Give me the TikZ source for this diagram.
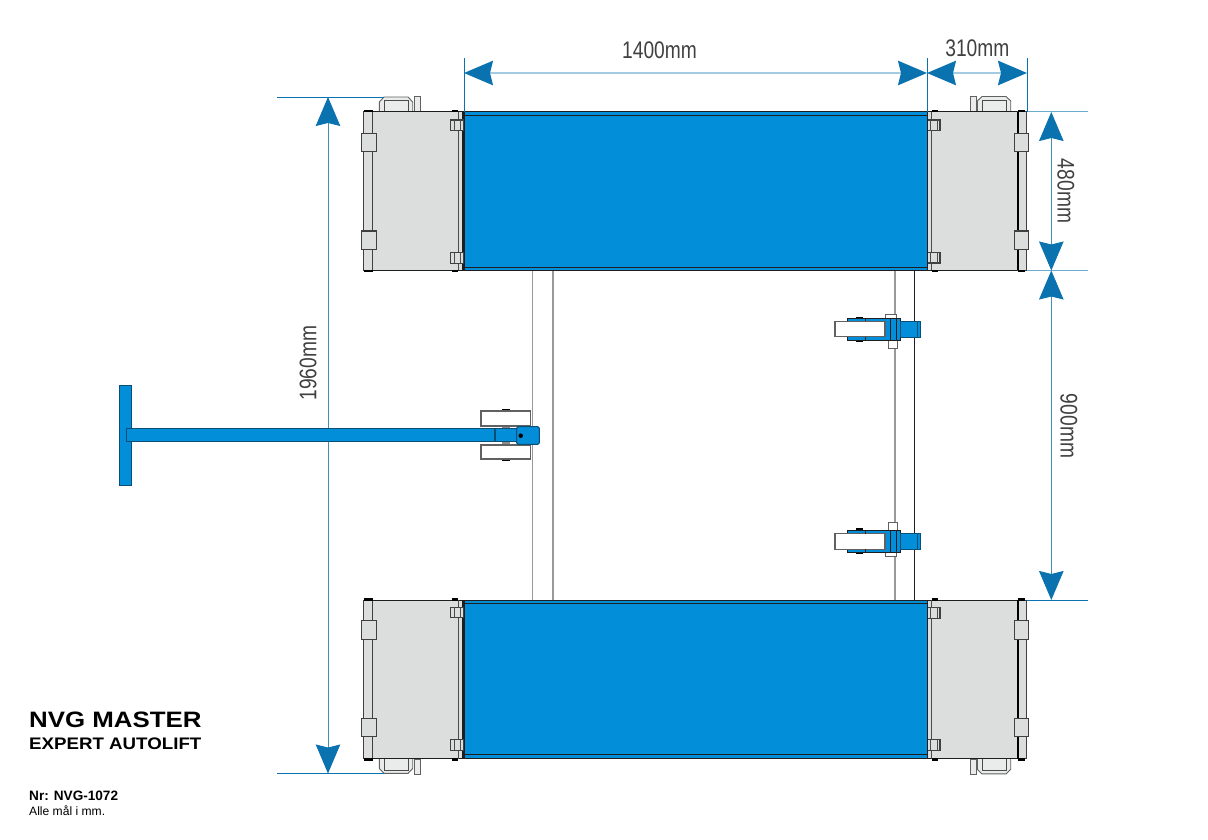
\documentclass[tikz,border=0pt]{standalone}
\usepackage{fontspec}
\usetikzlibrary{arrows.meta}
\setmainfont{Liberation Sans}
\newfontfamily\dimfont[FakeStretch=0.8]{Liberation Sans}
\newfontfamily\titlefont[FakeStretch=1.16]{Liberation Sans}
\newfontfamily\subfont[FakeStretch=1.12]{Liberation Sans}
\definecolor{liftblue}{HTML}{038ED9}
\definecolor{dimblue}{HTML}{0A72AE}
\definecolor{dimlight}{HTML}{A3CBE3}
\definecolor{dimmid}{HTML}{3F8FB8}
\definecolor{bodygrey}{HTML}{DCDEDD}
\definecolor{linedark}{HTML}{1E1E1E}
\definecolor{steeledge}{HTML}{0B4F77}
\tikzset{
	body/.style={fill=bodygrey,draw=linedark,line width=1.1pt},
	part/.style={fill=bodygrey,draw=linedark!85,line width=1.1pt},
	hingeline/.style={draw=linedark!80,line width=0.9pt},
	tab/.style={fill=bodygrey!60,draw=linedark!70,line width=0.9pt},
	deck/.style={fill=liftblue,draw=linedark,line width=1pt},
	steel/.style={fill=liftblue,draw=linedark,line width=1pt},
	wheel/.style={fill=white,draw=linedark!70,line width=1.1pt},
	stud/.style={line width=2.4pt,draw=black},
	tube/.style={draw=black!40,line width=1.1pt},
	witness/.style={draw=dimblue,line width=0.8pt},
	dimtip/.tip={Stealth[length=29pt,width=24.5pt,inset=3pt,color=dimblue]},
	dimline/.style={draw=dimlight,line width=1.6pt,dimtip-dimtip},
	dimvert/.style={draw=dimmid,line width=0.9pt,dimtip-dimtip},
	dimtext/.style={text=black!75,font=\dimfont\fontsize{24}{24}\selectfont,inner sep=0pt},
	infotext/.style={anchor=base west,inner sep=0pt,text=black}
}
% upper half of the lift, called again flipped for the lower one
\newcommand{\liftside}{
	% left end
	\draw[tab] (379.3,111.7) -- (379.3,102) -- (384,97) -- (408,97) -- (412.7,102) -- (412.7,111.7);
	\draw[hingeline] (384,111.7) -- (384,100) -- (408,100) -- (408,111.7);
	\draw[tab] (414,96) rectangle (420,111);
	\draw[body] (372.7,111.7) rectangle (463,270.3);
	\draw[hingeline] (458.7,111.7) -- (458.7,270.3);
	\draw[part] (363.7,111.7) rectangle (372.7,270.3);
	\draw[part] (361.3,133.7) rectangle (376.3,151.7);
	\draw[part] (361.3,231) rectangle (376.3,249.7);
	\draw[stud] (364,111) -- (372.5,111);
	\draw[stud] (364,271) -- (372.5,271);
	\draw[stud] (452,111) -- (458,111);
	\draw[stud] (452,271) -- (458,271);
	\draw[part] (450.7,120) rectangle (463.5,130.7);
	\draw[part] (450.7,252.7) rectangle (463.5,263.3);
	\draw[hingeline] (454,120) -- (454,130.7);
	\draw[hingeline] (460.7,120) -- (460.7,130.7);
	\draw[hingeline] (454,252.7) -- (454,263.3);
	\draw[hingeline] (460.7,252.7) -- (460.7,263.3);
	% right end
	\draw[tab] (977.3,111.7) -- (977.3,101) -- (982,96.5) -- (1006,96.5) -- (1010.7,101) -- (1010.7,111.7);
	\draw[hingeline] (982,111.7) -- (982,100) -- (1006,100) -- (1006,111.7);
	\draw[tab] (970,96) rectangle (976,111);
	\draw[body] (927,111.7) rectangle (1018,270.3);
	\draw[hingeline] (931.3,111.7) -- (931.3,270.3);
	\draw[part] (1018,111.7) rectangle (1026.7,270.3);
	\draw[line width=1.5pt,draw=black] (1018,111.7) -- (1018,270.3);
	\draw[part] (1014.3,133.7) rectangle (1028.3,151.7);
	\draw[part] (1014.3,231) rectangle (1028.3,249.7);
	\draw[stud] (1018,111) -- (1025,111);
	\draw[stud] (1018,271) -- (1025,271);
	\draw[stud] (932,111) -- (938,111);
	\draw[stud] (932,271) -- (938,271);
	\draw[part] (926.7,120) rectangle (940,130.7);
	\draw[part] (926.7,252.3) rectangle (940,263);
	\draw[hingeline] (930,120) -- (930,130.7);
	\draw[hingeline] (937,120) -- (937,130.7);
	\draw[hingeline] (930,252.3) -- (930,263);
	\draw[hingeline] (937,252.3) -- (937,263);
	% deck
	\draw[deck] (464,112) rectangle (927,270);
	\draw[linedark,line width=1pt] (464,116) -- (927,116);
	\draw[linedark,line width=1pt] (464,267) -- (927,267);
	% caster
	\draw[stud] (856,318) -- (863,318);
	\draw[stud] (856,341) -- (863,341);
	\draw[wheel] (885.7,314.3) rectangle (896.7,319);
	\draw[wheel] (888.3,340) rectangle (897.3,348.3);
	\draw[steel] (847.7,318.3) rectangle (900,340.3);
	\draw[steel,draw=steeledge] (900,321.3) rectangle (920.7,337.3);
	\draw[steeledge,line width=0.9pt] (917.7,321.3) -- (917.7,337.3);
	\draw[wheel] (835,321.3) rectangle (885,336.7);
	\draw[linedark,line width=0.8pt] (865,318.3) -- (865,321.3);
	\draw[linedark,line width=0.8pt] (865,336.7) -- (865,340.3);
	\draw[linedark,line width=0.8pt] (890,318.3) -- (890,340.3);
	\draw[linedark,line width=0.8pt] (896.7,318.3) -- (896.7,340.3);
}
\begin{document}
\begin{tikzpicture}[x=1pt,y=-1pt]
	\useasboundingbox (0,0) rectangle (1208,840);
	
	% cross tubes
	\coordinate (A1) at (532.7,271);
	\coordinate (A2) at (532.7,600);
	\coordinate (B1) at (553,271);
	\coordinate (B2) at (553,600);
	\coordinate (C1) at (895,271);
	\coordinate (C2) at (895,600);
	\coordinate (E1) at (914.7,271);
	\coordinate (E2) at (914.7,600);
	\draw[tube] (A1) -- (A2);
	\draw[tube] (B1) -- (B2);
	\draw[tube] (C1) -- (C2);
	\draw[linedark,line width=0.8pt] (E1) -- (E2);
	
	\liftside
	\begin{scope}[shift={(0,870.4)},yscale=-1]
		\liftside
	\end{scope}
	
	% witness lines
	\coordinate (W1a) at (277,97);
	\coordinate (W1b) at (384,97);
	\coordinate (W2a) at (277,773.5);
	\coordinate (W2b) at (384,773.5);
	\coordinate (W3a) at (464,58);
	\coordinate (W3b) at (464,112);
	\coordinate (W4a) at (927,58);
	\coordinate (W4b) at (927,112);
	\coordinate (W5a) at (1027,58);
	\coordinate (W5b) at (1027,112);
	\coordinate (W6a) at (1027,111.5);
	\coordinate (W6b) at (1088,111.5);
	\coordinate (W7a) at (1027,270.5);
	\coordinate (W7b) at (1088,270.5);
	\coordinate (W8a) at (1027,600);
	\coordinate (W8b) at (1088,600);
	\draw[witness] (W1a) -- (W1b);
	\draw[witness] (W2a) -- (W2b);
	\draw[witness] (W3a) -- (W3b);
	\draw[witness] (W4a) -- (W4b);
	\draw[witness] (W5a) -- (W5b);
	\draw[witness,opacity=0.6] (W6a) -- (W6b);
	\draw[witness,opacity=0.6] (W7a) -- (W7b);
	\draw[witness] (W8a) -- (W8b);
	
	% dimensions
	\coordinate (D1a) at (464,73);
	\coordinate (D1b) at (927,73);
	\coordinate (D2a) at (927,73);
	\coordinate (D2b) at (1027,73);
	\coordinate (D3a) at (328,97);
	\coordinate (D3b) at (328,773.5);
	\coordinate (D4a) at (1051.3,112);
	\coordinate (D4b) at (1051.3,270.5);
	\coordinate (D5a) at (1051.3,270.5);
	\coordinate (D5b) at (1051.3,600);
	\draw[dimline] (D1a) -- (D1b);
	\draw[dimline] (D2a) -- (D2b);
	\draw[dimvert] (D3a) -- (D3b);
	\draw[dimvert] (D4a) -- (D4b);
	\draw[dimvert] (D5a) -- (D5b);
	
	\node[dimtext] (T1) at (659.5,50.5) {1400mm};
	\node[dimtext] (T2) at (977.4,48.3) {310mm};
	\node[dimtext,rotate=90] (T3) at (308,363) {1960mm};
	\node[dimtext,rotate=-90] (T4) at (1066,191) {480mm};
	\node[dimtext,rotate=-90] (T5) at (1069,426) {900mm};
	
	% handle
	\draw[steel,draw=steeledge] (119.3,385.7) rectangle (131.7,485);
	\draw[stud] (502,410.3) -- (510,410.3);
	\draw[stud] (502,460) -- (510,460);
	\draw[fill=black!45,draw=none] (501.7,425) rectangle (510,445);
	\draw[wheel] (481,411) rectangle (530.7,426);
	\draw[wheel] (481,445) rectangle (530.7,459);
	\draw[steel,draw=steeledge,line width=1.3pt] (126.7,428.8) rectangle (495,441.5);
	\draw[steel,draw=steeledge,line width=1.3pt] (495,428.8) rectangle (516.7,441.5);
	\draw[steel,draw=steeledge,rounded corners=1.5pt] (516.7,426.7) rectangle (539.3,444.3);
	\node[circle,fill=black,inner sep=0pt,minimum size=4.5pt] (P1) at (520.7,435.7) {};
	
	% title block
	\node[infotext,font=\titlefont\bfseries\fontsize{22.3}{22}\selectfont] (N1) at (29,727.7) {NVG MASTER};
	\node[infotext,font=\subfont\bfseries\fontsize{16.7}{17}\selectfont] (N2) at (29,749.3) {EXPERT AUTOLIFT};
	\node[infotext,font=\bfseries\fontsize{13.6}{14}\selectfont] (N3) at (29,800) {Nr: NVG-1072};
	\node[infotext,font=\fontsize{12.1}{12}\selectfont] (N4) at (29,815) {Alle mål i mm.};
	
\end{tikzpicture}
\end{document}
